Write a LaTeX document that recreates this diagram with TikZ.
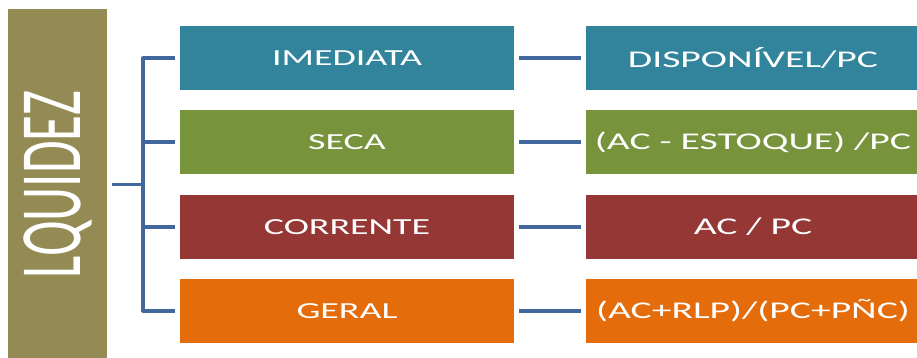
\documentclass[tikz,border=0pt]{standalone}
\usepackage{fontspec}
\setmainfont{Carlito}
\usepackage{graphicx}

\definecolor{liqolive}{HTML}{948A54}
\definecolor{liqteal}{HTML}{31849B}
\definecolor{liqgreen}{HTML}{77933C}
\definecolor{liqred}{HTML}{953735}
\definecolor{liqorange}{HTML}{E46C0A}
\definecolor{liqline}{HTML}{41689D}

% wide lettering used in all the boxes
\newcommand{\wide}[1]{\scalebox{1.65}[1]{#1}}

\begin{document}
\begin{tikzpicture}[x=1pt, y=-1pt,
    box/.style={minimum width=334pt, minimum height=64pt, inner sep=0pt,
        text=white, font=\fontsize{23}{23}\selectfont},
    fbox/.style={box, font=\fontsize{24}{24}\selectfont},
    link/.style={draw=liqline, line width=3.6pt}]
    \useasboundingbox (0,0) rectangle (917,358);

    % title bar
    \node[fill=liqolive, minimum width=99pt, minimum height=351pt, inner sep=0pt, text=white] (lqz) at (57.5,184.5)
        {\rotatebox{90}{\scalebox{1}[1.65]{\fontsize{53}{53}\selectfont LQUIDEZ}}};

    % kinds of ratio
    \node[box, fill=liqteal] (imediata) at (347,58) {\wide{IMEDIATA}};
    \node[box, fill=liqgreen] (seca) at (347,142) {\wide{SECA}};
    \node[box, fill=liqred] (corrente) at (347,227) {\wide{CORRENTE}};
    \node[box, fill=liqorange] (geral) at (347,311) {\wide{GERAL}};

    % formulas
    \node[fbox, fill=liqteal] (f1) at (753,58) {\wide{DISPONÍVEL/PC}};
    \node[fbox, fill=liqgreen] (f2) at (753,142) {\wide{(AC - ESTOQUE) /PC}};
    \node[fbox, fill=liqred] (f3) at (753,227) {\wide{AC / PC}};
    \node[fbox, fill=liqorange] (f4) at (753,311) {\wide{(AC+RLP)/(PC+PÑC)}};

    % bracket
    \coordinate (fork) at (143,184.5);
    \draw[link, shorten <=5pt] (lqz) -- (fork);
    \draw[link, line cap=round] (fork |- imediata.west) -- (fork |- geral.west);
    \foreach \k/\f in {imediata/f1, seca/f2, corrente/f3, geral/f4} {
        \draw[link, shorten >=5pt] (fork |- \k.west) -- (\k.west);
        \draw[link, shorten <=5pt, shorten >=5pt] (\k) -- (\f);
    }
\end{tikzpicture}
\end{document}
